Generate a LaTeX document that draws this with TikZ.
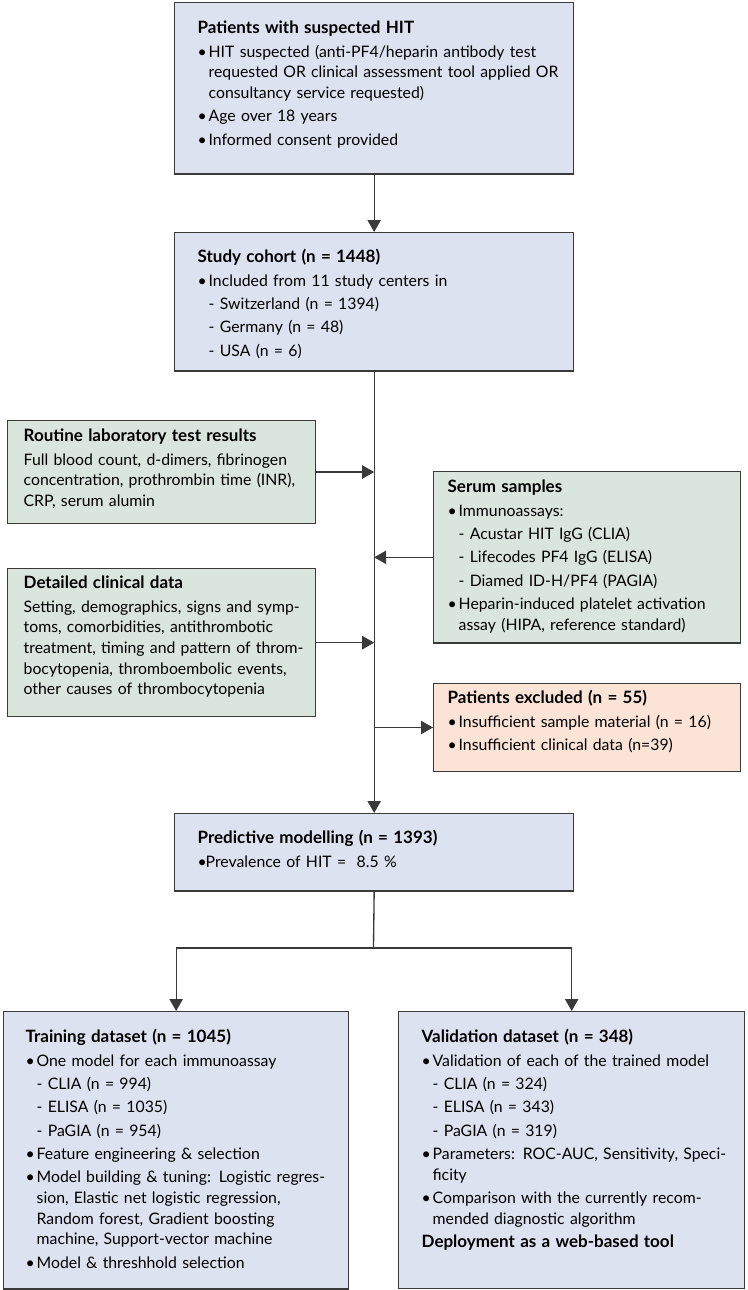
\documentclass[tikz,border=0pt]{standalone}
\usepackage{fontspec}
\setmainfont{Lato}
\usetikzlibrary{positioning,arrows.meta}

\definecolor{boxblue}{HTML}{DCE2F0}
\definecolor{boxgreen}{HTML}{DAE5DD}
\definecolor{boxpeach}{HTML}{FBE3D6}
\definecolor{edgegrey}{HTML}{3A3A3A}

% bullet, indent and padding helpers
\newcommand{\bl}{\makebox[8.25pt][l]{\textbullet}}
\newcommand{\ind}{\hspace*{8.25pt}}
\newcommand{\lpad}[1]{\leftskip=#1pt\relax}
\newcommand{\tgap}[1]{\rule{0pt}{#1pt}}
\newcommand{\bgap}[1]{\rule[-#1pt]{0pt}{#1pt}\par}
\newcommand{\head}[1]{{\fontsize{12.75}{15.5}\selectfont\bfseries #1}}

\tikzset{
  infobox/.style={draw=edgegrey, line width=1pt, anchor=north west, inner sep=0pt,
    align=left, font=\fontsize{11.85}{15.5}\selectfont},
  bluebox/.style={infobox, fill=boxblue},
  greenbox/.style={infobox, fill=boxgreen},
  peachbox/.style={infobox, fill=boxpeach},
  flow/.style={draw=edgegrey, line width=1pt, -{Triangle[length=9pt,width=10pt]}},
  link/.style={draw=edgegrey, line width=1pt}
}

\begin{document}
\begin{tikzpicture}[x=0.75pt,y=-0.75pt]
    \useasboundingbox (0,0) rectangle (747,1290);

    % Main column
    \node[bluebox, text width=299.25pt] (suspect) at (174,2) {\lpad{17.25}\tgap{23.25}\head{Patients with suspected HIT}\\[2pt]
        \bl HIT suspected (anti-PF4/heparin antibody test\\
        \ind requested OR clinical assessment tool applied OR\\
        \ind consultancy service requested)\\[2pt]
        \bl Age over 18 years\\[2pt]
        \bl Informed consent provided\bgap{21.75}};

    \node[bluebox, text width=299.25pt] (cohort) at (174,232) {\lpad{17.25}\tgap{22.5}\head{Study cohort (n = 1448)}\\[2pt]
        \bl Included from 11 study centers in\\[2pt]
        \ind- Switzerland (n = 1394)\\[2pt]
        \ind- Germany (n = 48)\\[2pt]
        \ind- USA (n = 6)\bgap{11.25}};

    % Side inputs
    \node[greenbox, text width=231pt] (routine) at (7,420) {\lpad{12}\tgap{15.75}\head{Routine laboratory test results}\\[2pt]
        Full blood count, d-dimers, fibrinogen\\
        concentration, prothrombin time (INR),\\
        CRP, serum alumin\bgap{12.75}};

    \node[greenbox, text width=230.25pt] (serum) at (433,471) {\lpad{10.5}\tgap{15.75}\head{Serum samples}\\[2pt]
        \bl Immunoassays:\\[2pt]
        \ind- Acustar HIT IgG (CLIA)\\[2pt]
        \ind- Lifecodes PF4 IgG (ELISA)\\[2pt]
        \ind- Diamed ID-H/PF4 (PAGIA)\\[2pt]
        \bl Heparin-induced platelet activation\\
        \ind assay (HIPA, reference standard)\bgap{9.75}};

    \node[greenbox, text width=231pt] (clinical) at (7,568) {\lpad{12}\tgap{15}\head{Detailed clinical data}\\[2pt]
        Setting, demographics, signs and symp-\\
        toms, comorbidities, antithrombotic\\
        treatment, timing and pattern of throm-\\
        bocytopenia, thromboembolic events,\\
        other causes of thrombocytopenia\bgap{16.5}};

    \node[peachbox, text width=230.25pt] (excluded) at (433,683) {\lpad{10.5}\tgap{15}\head{Patients excluded (n = 55)}\\[2pt]
        \bl Insufficient sample material (n = 16)\\[2pt]
        \bl Insufficient clinical data (n=39)\bgap{15.75}};

    \node[bluebox, text width=299.25pt] (predict) at (174,813) {\lpad{17.25}\tgap{22.5}\head{Predictive modelling (n = 1393)}\\[2pt]
        \makebox[6pt][l]{\textbullet}Prevalence of HIT = \ 8.5 \%\bgap{18}};

    % Datasets
    \node[bluebox, text width=258.75pt] (train) at (3,1011) {\lpad{16.5}\tgap{23.25}\head{Training dataset (n = 1045)}\\[2pt]
        \bl One model for each immunoassay\\[2pt]
        \ind- CLIA (n = 994)\\[2pt]
        \ind- ELISA (n = 1035)\\[2pt]
        \ind- PaGIA (n = 954)\\[2pt]
        \bl Feature engineering \& selection\\[2pt]
        \bl Model building \& tuning: Logistic regres-\\
        \ind sion, Elastic net logistic regression,\\
        \ind Random forest, Gradient boosting\\
        \ind machine, Support-vector machine\\[2pt]
        \bl Model \& threshhold selection\bgap{15.75}};

    \node[bluebox, text width=259.5pt] (valid) at (398,1011) {\lpad{17.25}\tgap{23.25}\head{Validation dataset (n = 348)}\\[2pt]
        \bl Validation of each of the trained model\\[2pt]
        \ind- CLIA (n = 324)\\[2pt]
        \ind- ELISA (n = 343)\\[2pt]
        \ind- PaGIA (n = 319)\\[2pt]
        \bl Parameters: ROC-AUC, Sensitivity, Speci-\\
        \ind ficity\\[2pt]
        \bl Comparison with the currently recom-\\
        \ind mended diagnostic algorithm\\[2pt]
        \head{Deployment as a web-based tool}\bgap{30.75}};

    % Connectors
    \draw[flow] (suspect.south) -- (cohort.north);
    \draw[flow] (cohort.south) -- (predict.north);
    \draw[flow] (routine.east) -- (routine.east -| cohort.south);
    \draw[flow] (serum.west) -- (serum.west -| cohort.south);
    \draw[flow] (clinical.east) -- (clinical.east -| cohort.south);
    \draw[flow] (excluded.west -| cohort.south) -- (excluded.west);

    \coordinate (split) at (373.5,948);
    \draw[link] (predict.south) -- (split);
    \draw[flow] (split) -| (train.north);
    \draw[flow] (split) -| (valid.north);
\end{tikzpicture}
\end{document}
